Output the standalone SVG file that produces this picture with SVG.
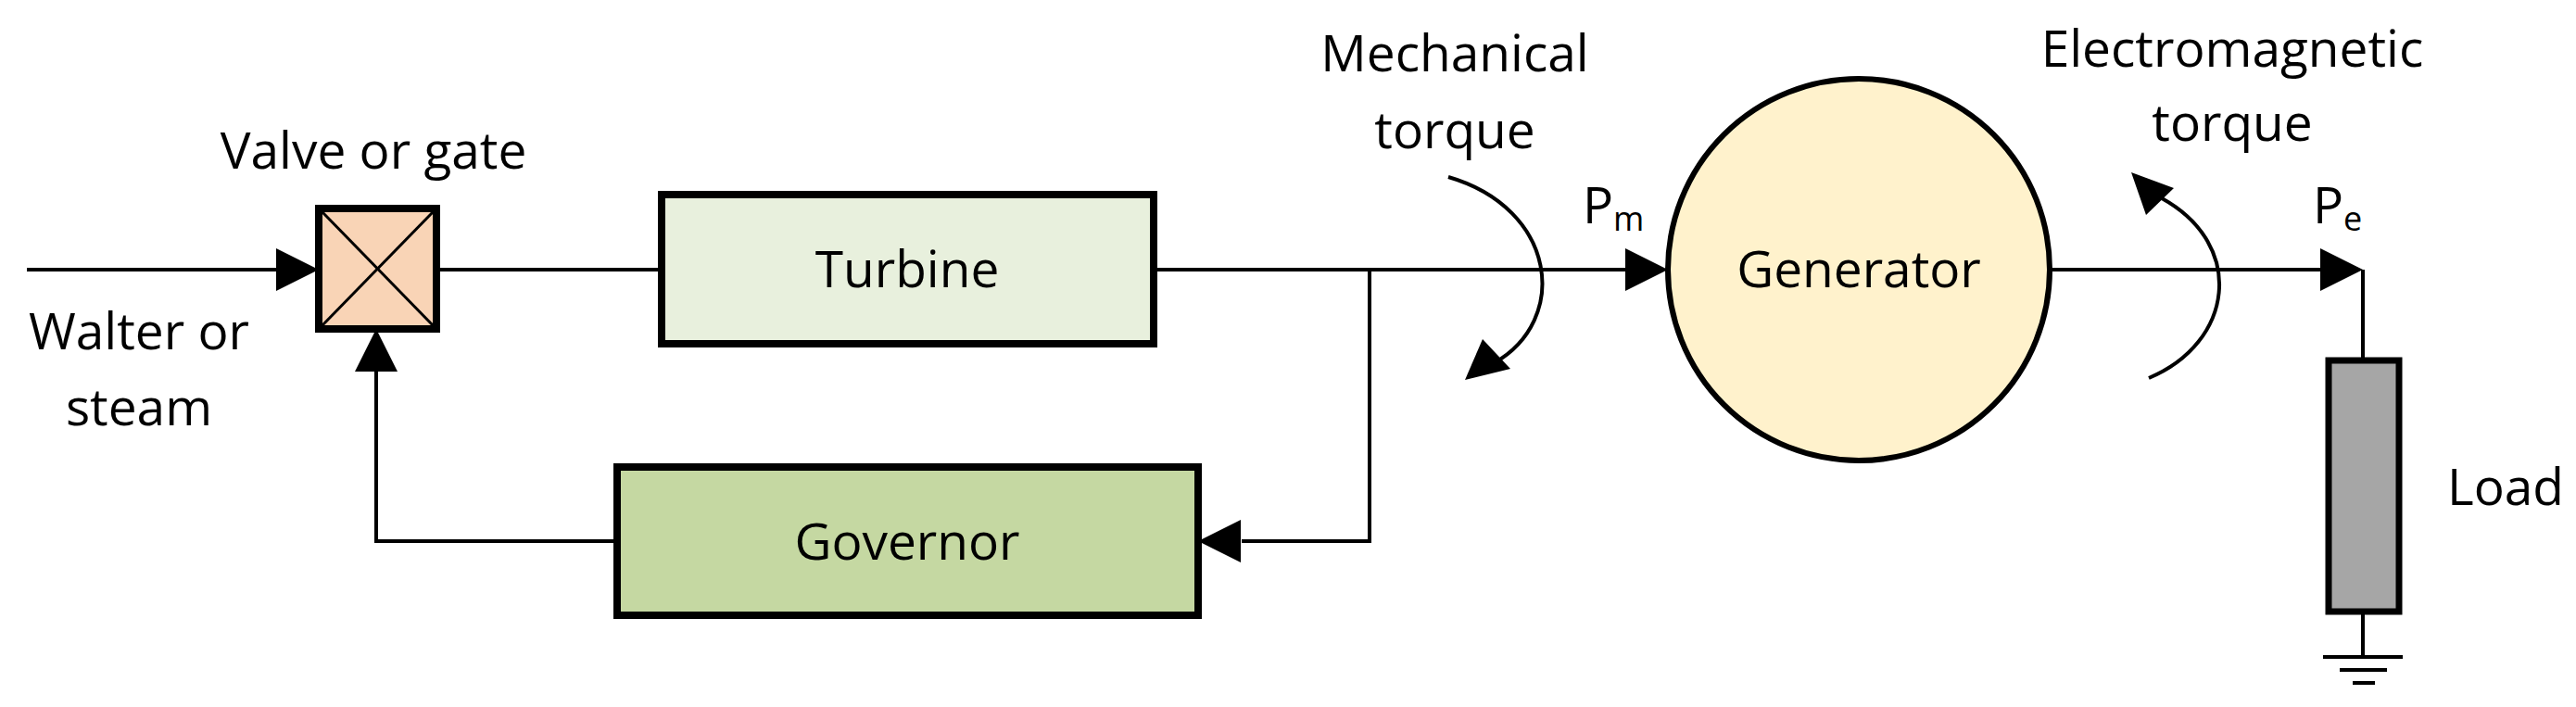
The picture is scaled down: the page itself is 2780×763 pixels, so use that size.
<svg xmlns="http://www.w3.org/2000/svg" width="2780" height="763" viewBox="0 0 2780 763">
<style>
text{font-family:"Open Sans","Liberation Sans",sans-serif;font-size:55px;fill:#000}
.box{stroke:#000;stroke-width:8}
.ln{stroke:#000;stroke-width:4;fill:none}
</style>
<rect width="2780" height="763" fill="#fff"/>
<g id="connectors">
<line class="ln" x1="29" y1="291" x2="300" y2="291"/><path d="M298,268 L344,291 L298,314 Z"/>
<line class="ln" x1="471" y1="291" x2="714" y2="291"/>
<line class="ln" x1="1245" y1="291" x2="1760" y2="291"/><path d="M1754,268 L1800,291 L1754,314 Z"/>
<polyline class="ln" points="1478,291 1478,584 1340,584"/><path d="M1339,561 L1293,584 L1339,607 Z"/>
<polyline class="ln" points="666,584 406,584 406,395"/><path d="M383,401 L406,355 L429,401 Z"/>
<line class="ln" x1="2212" y1="291" x2="2510" y2="291"/><path d="M2504,268 L2550,291 L2504,314 Z"/>
<line class="ln" x1="2550" y1="291" x2="2550" y2="389"/>
<line class="ln" x1="2550" y1="660" x2="2550" y2="709"/>
<line class="ln" x1="2507" y1="709" x2="2593" y2="709"/>
<line class="ln" x1="2525" y1="723" x2="2576" y2="723"/>
<line class="ln" x1="2539" y1="737" x2="2563" y2="737"/>
<path class="ln" d="M1563,191 C1680,225 1695,345 1612,392"/><path d="M1581,410 L1600,366 L1630,398 Z"/>
<path class="ln" d="M2319,408 C2410,370 2425,265 2333,214"/><path d="M2300,186 L2346,203 L2316,232 Z"/>
</g>
<g id="valve"><rect class="box" x="344" y="225" width="127" height="130" fill="#f9d4b6"/>
<line class="ln" x1="348" y1="229" x2="467" y2="351" style="stroke-width:3"/><line class="ln" x1="467" y1="229" x2="348" y2="351" style="stroke-width:3"/></g>
<g id="turbine"><rect class="box" x="714" y="210" width="531" height="161" fill="#e8f0dd"/><text x="979" y="310" text-anchor="middle">Turbine</text></g>
<g id="governor"><rect class="box" x="666" y="504" width="627" height="160" fill="#c5d8a2"/><text x="979" y="604" text-anchor="middle">Governor</text></g>
<g id="generator"><circle class="box" cx="2006" cy="291" r="206" fill="#fff2cc" style="stroke-width:6"/><text x="2006" y="310" text-anchor="middle">Generator</text></g>
<g id="load"><rect class="box" x="2513" y="389" width="76" height="271" fill="#a6a6a6" style="stroke-width:7"/><text x="2641" y="545">Load</text></g>
<g id="labels">
<text x="403" y="182" text-anchor="middle">Valve or gate</text>
<text x="150" y="377" text-anchor="middle">Walter or</text>
<text x="150" y="459" text-anchor="middle">steam</text>
<text x="1570" y="77" text-anchor="middle">Mechanical</text>
<text x="1570" y="160" text-anchor="middle">torque</text>
<text x="2409" y="72" text-anchor="middle">Electromagnetic</text>
<text x="2409" y="152" text-anchor="middle">torque</text>
<text x="1708" y="241">P<tspan font-size="36" dy="8">m</tspan></text>
<text x="2496" y="241">P<tspan font-size="36" dy="8">e</tspan></text>
</g>
</svg>
